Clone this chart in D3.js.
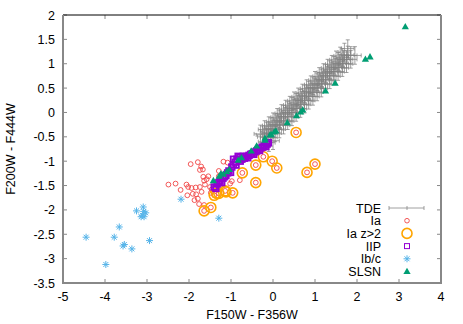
<!DOCTYPE html>
<html>
<head>
<meta charset="utf-8">
<script src="https://cdn.jsdelivr.net/npm/d3@7"></script>
<style>
  body { margin: 0; background: #fff; }
  text { font-family: "Liberation Sans", Arial, sans-serif; font-size: 12.5px; fill: #000; }
</style>
</head>
<body>
<script>
// Data
const xTicks = [-5, -4, -3, -2, -1, 0, 1, 2, 3, 4];
const yTicks = [-3.5, -3, -2.5, -2, -1.5, -1, -0.5, 0, 0.5, 1, 1.5, 2];

const tde = [
  [-0.30, -0.44], [-0.20, -0.35], [-0.10, -0.27], [0.00, -0.19], [0.10, -0.10], [0.20, -0.02],
  [0.30, 0.07], [0.40, 0.15], [0.50, 0.24], [0.60, 0.32], [0.70, 0.40], [0.80, 0.49],
  [0.90, 0.57], [1.00, 0.66], [1.10, 0.74], [1.20, 0.82], [1.30, 0.91], [1.40, 0.99],
  [1.50, 1.08], [1.60, 1.16], [1.70, 1.24], [1.78, 1.31],
  [-0.25, -0.46], [-0.15, -0.38], [-0.05, -0.29], [0.05, -0.21], [0.15, -0.13], [0.25, -0.04],
  [0.35, 0.04], [0.45, 0.13], [0.55, 0.21], [0.65, 0.29], [0.75, 0.38], [0.85, 0.46],
  [0.95, 0.55], [1.05, 0.63], [1.15, 0.71], [1.25, 0.80], [1.35, 0.88], [1.45, 0.97],
  [1.55, 1.05], [1.65, 1.13],
  [-0.22, -0.50], [-0.12, -0.42], [-0.02, -0.34], [0.08, -0.25], [0.18, -0.17], [0.28, -0.08],
  [0.38, 0.00], [0.48, 0.09], [0.58, 0.17], [0.68, 0.25], [0.78, 0.34], [0.88, 0.42],
  [0.98, 0.51], [1.08, 0.59], [1.18, 0.67], [1.28, 0.76], [1.38, 0.84], [1.48, 0.93],
  [1.58, 1.01], [1.68, 1.09], [1.78, 1.18],
  [-0.15, -0.51], [-0.05, -0.43], [0.05, -0.34], [0.15, -0.26], [0.25, -0.18], [0.35, -0.09],
  [0.45, -0.01], [0.55, 0.08], [0.65, 0.16], [0.75, 0.25], [0.85, 0.33], [0.95, 0.41],
  [1.05, 0.50], [1.15, 0.58], [1.25, 0.67], [1.35, 0.75], [1.45, 0.83], [1.55, 0.92],
  [1.65, 1.00], [1.75, 1.09], [1.85, 1.17],
  [-0.05, -0.51], [0.05, -0.42], [0.15, -0.34], [0.25, -0.26], [0.35, -0.17], [0.45, -0.09],
  [0.55, 0.00], [0.65, 0.08], [0.75, 0.17], [0.85, 0.25], [0.95, 0.33], [1.05, 0.42],
  [1.15, 0.50], [1.25, 0.59], [1.35, 0.67], [1.45, 0.75], [1.55, 0.84], [1.65, 0.92],
  [1.75, 1.00], [1.85, 1.09], [1.95, 1.17],
  [-0.20, -0.60], [-0.10, -0.62], [0.00, -0.58]
];
const tdeErr = [0.15, 0.18];

const ia = [
  [-1.96, -1.06], [-1.79, -1.02], [-1.71, -1.11], [-1.67, -1.17], [-1.74, -1.18], [-1.18, -1.01],
  [-1.08, -1.03], [-1.29, -1.20], [-1.66, -1.32], [-1.54, -1.31], [-1.58, -1.37], [-1.64, -1.40],
  [-1.29, -1.31], [-2.49, -1.48], [-2.32, -1.46], [-2.06, -1.48], [-2.02, -1.53], [-1.94, -1.55],
  [-1.84, -1.54], [-1.74, -1.53], [-1.62, -1.48], [-1.50, -1.53], [-2.20, -1.59], [-2.04, -1.70],
  [-1.83, -1.68], [-1.91, -1.67], [-1.70, -1.63], [-1.48, -1.65], [-1.46, -1.58], [-1.87, -1.80],
  [-1.79, -1.77], [-1.76, -1.88], [-1.64, -1.90], [-0.79, -1.39], [-0.98, -1.41], [-1.02, -1.46],
  // inner circles of the z>2 objects
  [0.55, -0.41], [-0.23, -0.91], [-0.02, -1.00], [0.09, -1.14], [-0.41, -1.08], [-0.73, -1.24],
  [-0.41, -1.44], [-0.96, -1.65], [1.00, -1.06], [0.81, -1.23], [-1.14, -1.61], [-1.29, -1.66],
  [-1.40, -1.70], [-1.48, -1.95], [-1.64, -2.02]
];

const iaHighZ = [
  [0.55, -0.41], [-0.23, -0.91], [-0.02, -1.00], [0.09, -1.14], [-0.41, -1.08], [-0.73, -1.24],
  [-0.41, -1.44], [-0.96, -1.65], [1.00, -1.06], [0.81, -1.23], [-1.14, -1.61], [-1.12, -1.63],
  [-1.29, -1.66], [-1.40, -1.70], [-1.34, -1.66], [-1.48, -1.95], [-1.64, -2.02]
];

const iip = [
  [-1.40, -1.53], [-1.36, -1.56], [-1.33, -1.47], [-1.29, -1.44], [-1.26, -1.41], [-1.22, -1.44],
  [-1.19, -1.35], [-1.15, -1.32], [-1.12, -1.29], [-1.08, -1.24], [-1.05, -1.20], [-1.01, -1.23],
  [-0.98, -1.12], [-0.94, -1.07], [-0.90, -1.02], [-0.94, -0.96], [-0.88, -1.08], [-0.86, -0.96],
  [-0.83, -0.90], [-0.79, -0.92], [-0.78, -1.00], [-0.74, -0.96], [-0.71, -0.90], [-0.68, -0.94],
  [-0.64, -0.90], [-0.60, -0.93], [-0.57, -0.88], [-0.53, -0.86], [-0.50, -0.85], [-0.46, -0.86],
  [-0.43, -0.81], [-0.39, -0.79], [-0.36, -0.77], [-0.32, -0.78], [-0.29, -0.73], [-0.25, -0.71],
  [-0.21, -0.69], [-0.17, -0.70], [-0.14, -0.65], [-0.11, -0.62]
];

const ibc = [
  [-4.45, -2.56], [-3.98, -3.12], [-3.78, -2.56], [-3.66, -2.35], [-3.54, -2.71], [-3.57, -2.74],
  [-3.36, -2.80], [-3.25, -2.02], [-3.09, -1.94], [-3.11, -2.11], [-3.03, -2.06], [-3.07, -2.14],
  [-3.14, -2.14], [-3.08, -2.03], [-2.94, -2.63], [-2.19, -1.78], [-1.29, -2.17]
];

const slsn = [
  [3.15, 1.76], [2.20, 1.09], [2.31, 1.14], [1.48, 0.60], [1.25, 0.44], [0.71, 0.05],
  [0.66, 0.01], [0.56, -0.07], [0.34, -0.21], [0.07, -0.38], [0.03, -0.40], [-0.04, -0.46],
  [-0.07, -0.46], [-0.19, -0.53], [-0.19, -0.57], [-0.39, -0.69], [-0.52, -0.79], [-0.75, -0.93],
  [-0.83, -0.98], [-1.04, -1.17], [-1.10, -1.22], [-1.18, -1.27], [-1.24, -1.26], [-1.28, -1.31],
  [-1.42, -1.40]
];

const legendLabels = ["TDE", "Ia", "Ia z>2", "IIP", "Ib/c", "SLSN"];

// Colours
const cTde = "#808080", cIa = "#f04646", cHz = "#ffa500", cIip = "#9400d3", cIbc = "#56b4e9", cSl = "#009e73";

// Dimensions
const W = 463, H = 324;
const margin = { top: 15, right: 22, bottom: 41, left: 63 };

const svg = d3.select("body").append("svg")
  .attr("width", W).attr("height", H);

const x = d3.scaleLinear().domain([-5, 4]).range([margin.left, W - margin.right]);
const y = d3.scaleLinear().domain([-3.5, 2]).range([H - margin.bottom, margin.top]);

// ticks (inward, mirrored)
const tk = svg.append("g").attr("stroke", "#888").attr("stroke-width", 1);
xTicks.forEach(v => {
  tk.append("line").attr("x1", x(v)).attr("x2", x(v)).attr("y1", y(-3.5)).attr("y2", y(-3.5) - 4);
  tk.append("line").attr("x1", x(v)).attr("x2", x(v)).attr("y1", y(2)).attr("y2", y(2) + 4);
});
yTicks.forEach(v => {
  tk.append("line").attr("x1", x(-5)).attr("x2", x(-5) + 4).attr("y1", y(v)).attr("y2", y(v));
  tk.append("line").attr("x1", x(4)).attr("x2", x(4) - 4).attr("y1", y(v)).attr("y2", y(v));
});

// tick labels
svg.append("g").selectAll("text").data(xTicks).join("text")
  .attr("x", d => x(d)).attr("y", y(-3.5) + 18)
  .attr("text-anchor", "middle").text(d => d);
svg.append("g").selectAll("text").data(yTicks).join("text")
  .attr("x", x(-5) - 8).attr("y", d => y(d) + 4.5)
  .attr("text-anchor", "end").text(d => d);

// axis labels
svg.append("text").attr("x", (x(-5) + x(4)) / 2).attr("y", 319)
  .attr("text-anchor", "middle").text("F150W - F356W");
svg.append("text").attr("transform", `translate(15,${(y(-3.5) + y(2)) / 2}) rotate(-90)`)
  .attr("text-anchor", "middle").text("F200W - F444W");

// marker helpers
function errbar(g, cx, cy, ex, ey, color) {
  const cap = 2;
  const p = `M${cx - ex},${cy}H${cx + ex}M${cx - ex},${cy - cap}V${cy + cap}M${cx + ex},${cy - cap}V${cy + cap}` +
            `M${cx},${cy - ey}V${cy + ey}M${cx - cap},${cy - ey}H${cx + cap}M${cx - cap},${cy + ey}H${cx + cap}`;
  g.append("path").attr("d", p).attr("fill", "none").attr("stroke", color).attr("stroke-width", 1).attr("opacity", 0.75);
}
function star(g, cx, cy, r, color) {
  const d = r * 0.7071;
  g.append("path")
    .attr("d", `M${cx - r},${cy}H${cx + r}M${cx},${cy - r}V${cy + r}M${cx - d},${cy - d}L${cx + d},${cy + d}M${cx - d},${cy + d}L${cx + d},${cy - d}`)
    .attr("stroke", color).attr("stroke-width", 1).attr("fill", "none");
}
function tri(g, cx, cy, s, color) {
  g.append("path")
    .attr("d", `M${cx},${cy - s}L${cx + s * 0.95},${cy + s * 0.65}L${cx - s * 0.95},${cy + s * 0.65}Z`)
    .attr("fill", color);
}
function square(g, cx, cy, s, color, w) {
  g.append("rect").attr("x", cx - s).attr("y", cy - s).attr("width", 2 * s).attr("height", 2 * s)
    .attr("fill", "none").attr("stroke", color).attr("stroke-width", w);
}
function circ(g, cx, cy, r, color, w) {
  g.append("circle").attr("cx", cx).attr("cy", cy).attr("r", r)
    .attr("fill", "none").attr("stroke", color).attr("stroke-width", w);
}

const plot = svg.append("g");
const exPx = x(tdeErr[0]) - x(0), eyPx = y(0) - y(tdeErr[1]);
tde.forEach(d => errbar(plot, x(d[0]), y(d[1]), exPx, eyPx, cTde));
ia.forEach(d => circ(plot, x(d[0]), y(d[1]), 2.4, cIa, 0.9));
iaHighZ.forEach(d => circ(plot, x(d[0]), y(d[1]), 5, cHz, 1.6));
iip.forEach(d => square(plot, x(d[0]), y(d[1]), 2.8, cIip, 1.8));
ibc.forEach(d => star(plot, x(d[0]), y(d[1]), 3.5, cIbc));
slsn.forEach(d => tri(plot, x(d[0]), y(d[1]), 3.8, cSl));

// legend
const lg = svg.append("g");
const lgX = 381, lgY0 = 208, lgDy = 12.7, symX = 407;
legendLabels.forEach((t, i) => {
  lg.append("text").attr("x", lgX).attr("y", lgY0 + i * lgDy + 4.5).attr("text-anchor", "end").text(t);
});
{
  const cy = lgY0;
  lg.append("path")
    .attr("d", `M389,${cy}H424M389,${cy - 2}V${cy + 2}M424,${cy - 2}V${cy + 2}M${symX},${cy - 2}V${cy + 2}`)
    .attr("stroke", cTde).attr("stroke-width", 1).attr("fill", "none").attr("opacity", 0.75);
}
circ(lg, symX, lgY0 + lgDy, 2.3, cIa, 0.9);
circ(lg, symX, lgY0 + 2 * lgDy, 5, cHz, 1.6);
square(lg, symX, lgY0 + 3 * lgDy, 2.5, cIip, 1);
star(lg, symX, lgY0 + 4 * lgDy, 3.5, cIbc);
tri(lg, symX, lgY0 + 5 * lgDy, 3.8, cSl);

// frame
const fr = svg.append("g").attr("fill", "none");
fr.append("line").attr("x1", x(-5)).attr("x2", x(4)).attr("y1", y(2)).attr("y2", y(2))
  .attr("stroke", "#000").attr("stroke-width", 1);
fr.append("path")
  .attr("d", `M${x(-5)},${y(2)}V${y(-3.5)}H${x(4)}V${y(2)}`)
  .attr("stroke", "#888").attr("stroke-width", 2);
</script>
</body>
</html>
